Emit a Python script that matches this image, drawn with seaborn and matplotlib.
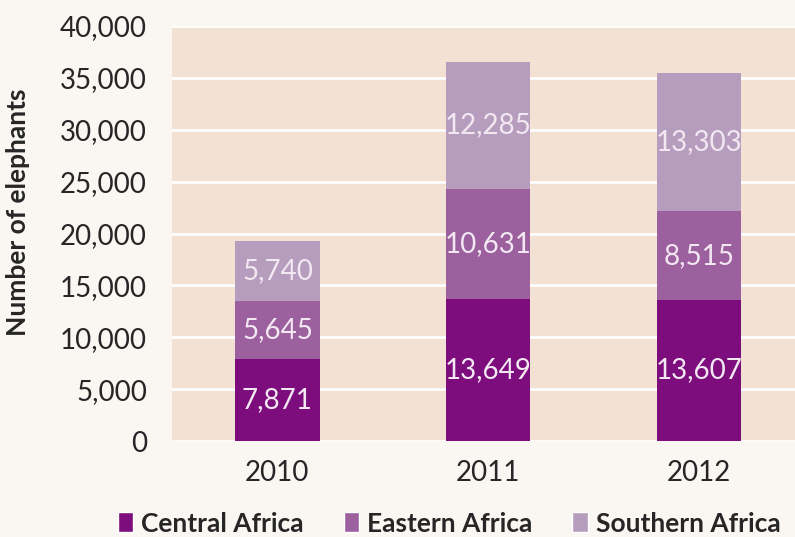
import numpy as np
import pandas as pd
import matplotlib
matplotlib.use("Agg")
import matplotlib.pyplot as plt
from matplotlib.patches import Patch
import seaborn as sns

# data
years = ['2010', '2011', '2012']
central = [7871, 13649, 13607]
eastern = [5645, 10631, 8515]
southern = [5740, 12285, 13303]
regions = ['Central Africa', 'Eastern Africa', 'Southern Africa']
colors = ['#7d0c7d', '#9c609f', '#b79dbd']

sns.set_style('white')
plt.rcParams['font.family'] = ['Lato', 'DejaVu Sans']

df = pd.DataFrame({'Year': years, 'Central': central, 'Eastern': eastern, 'Southern': southern})
df['c1'] = df['Central']
df['c2'] = df['Central'] + df['Eastern']
df['c3'] = df['c2'] + df['Southern']

fig = plt.figure(figsize=(7.95, 5.37), dpi=100, facecolor='#faf7f3')
ax = fig.add_axes([172 / 795, 1 - 441 / 537, (795 - 172) / 795, (441 - 26) / 537])
ax.set_facecolor('#f3e1d3')

# stacked bars drawn as layered cumulative totals
for col, c in zip(['c3', 'c2', 'c1'], colors[::-1]):
    sns.barplot(data=df, x='Year', y=col, color=c, width=0.4, linewidth=0,
                saturation=1, ax=ax, zorder=3)

# segment labels
for i in range(len(years)):
    bottoms = [0, central[i], central[i] + eastern[i]]
    for b, v in zip(bottoms, [central[i], eastern[i], southern[i]]):
        ax.text(i, b + v / 2, f'{v:,}', ha='center', va='center', fontsize=20,
                color='#f2e8f2', zorder=5)

ax.set_ylim(0, 40000)
ax.set_xlim(-0.5, 2.455)
ax.set_yticks(range(0, 40001, 5000))
ax.set_yticklabels([f'{v:,}' for v in range(0, 40001, 5000)], fontsize=20)
ax.tick_params(axis='x', labelsize=20, pad=14, length=0)
ax.tick_params(axis='y', pad=18, length=0)
ax.yaxis.grid(True, color='white', linewidth=2)
ax.set_axisbelow(True)
for s in ax.spines.values():
    s.set_visible(False)
ax.set_xlabel('')
ax.set_ylabel('Number of elephants', fontsize=19, fontweight='bold')
ax.yaxis.set_label_coords(-0.228, 0.55)

handles = [Patch(facecolor=c, label=r) for c, r in zip(colors, regions)]
fig.legend(handles=handles, loc='center', bbox_to_anchor=(0.565, 0.025), ncol=3,
           frameon=False, prop={'weight': 'bold', 'size': 19},
           handlelength=0.6, handleheight=0.8, handletextpad=0.3, columnspacing=1.5)

fig.savefig('out.png', dpi=100, facecolor=fig.get_facecolor())
